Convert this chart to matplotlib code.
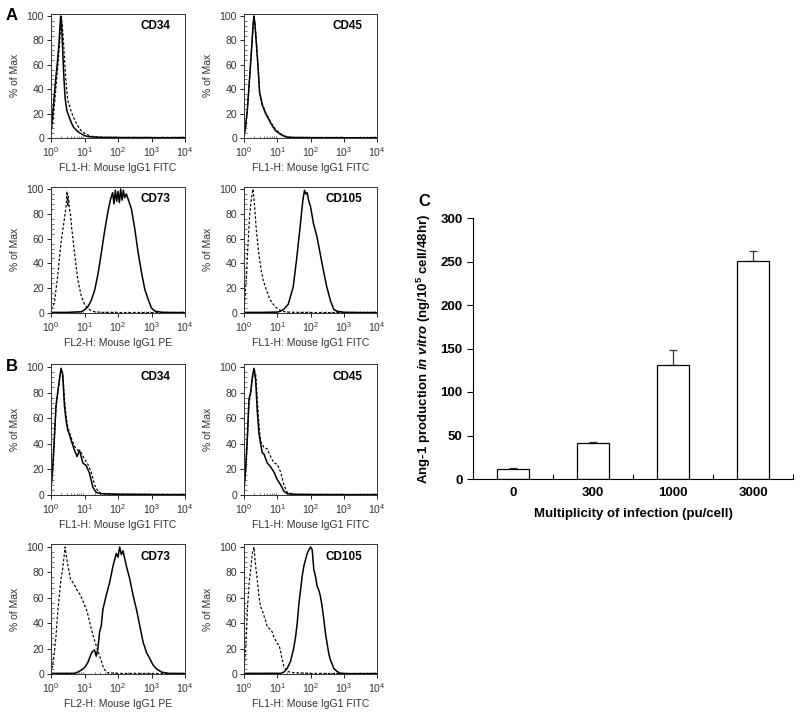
import numpy as np
import matplotlib
matplotlib.use("Agg")
import matplotlib.pyplot as plt
from matplotlib.ticker import LogLocator, MultipleLocator, NullFormatter

plt.rcParams['font.family'] = ['Liberation Sans', 'DejaVu Sans']
plt.rcParams['mathtext.fontset'] = 'custom'
plt.rcParams['mathtext.rm'] = 'Liberation Sans:bold'
plt.rcParams['mathtext.it'] = 'Liberation Sans:italic:bold'
plt.rcParams['mathtext.bf'] = 'Liberation Sans:bold'

# ---------------- flow cytometry histograms (x = log10 intensity, y = % of Max) ----------
A_CD34_solid_x = [0, .04, .09, .14, .19, .24, .27, .29, .31, .34, .38, .42, .47, .53, .6, .67, .77, .87, 1.0, 1.1, 1.25, 1.5, 2.0, 3.0, 4.0]
A_CD34_solid_y = [6, 16, 32, 48, 62, 78, 93, 100, 95, 78, 52, 33, 23, 18, 13, 9, 6, 4, 2, 1.2, .8, .5, .4, .3, .3]
A_CD34_dash_x = [0, .05, .1, .15, .2, .25, .28, .31, .34, .37, .41, .45, .5, .6, .7, .8, .9, 1.0, 1.1, 1.2, 1.4, 1.7, 2.0, 3.0, 4.0]
A_CD34_dash_y = [4, 12, 26, 42, 58, 75, 88, 98, 92, 80, 62, 45, 31, 22, 15, 10, 6, 4, 2.5, 1.5, .8, .5, .4, .3, .3]

A_CD45_solid_x = [0, .05, .1, .17, .24, .28, .3, .33, .37, .42, .47, .55, .65, .75, .85, .95, 1.1, 1.2, 1.3, 1.5, 2.0, 3.0, 4.0]
A_CD45_solid_y = [1, 10, 23, 50, 78, 95, 100, 93, 78, 59, 37, 27, 20, 15, 10, 6, 3, 1.5, .7, .4, .3, .2, .2]
A_CD45_dash_x = [0, .05, .1, .17, .24, .28, .3, .33, .37, .42, .47, .55, .65, .75, .85, .95, 1.1, 1.2, 1.3, 1.5, 2.0, 3.0, 4.0]
A_CD45_dash_y = [1, 9, 22, 49, 77, 94, 99, 94, 80, 60, 38, 28, 21, 16, 11, 7, 3.5, 1.8, .8, .4, .3, .2, .2]

A_CD73_solid_x = [0, .5, .9, 1.0, 1.1, 1.2, 1.3, 1.4, 1.5, 1.6, 1.7, 1.78, 1.84, 1.88, 1.92, 1.96, 2.0, 2.04, 2.08, 2.12, 2.16, 2.2, 2.25, 2.3, 2.4, 2.5, 2.6, 2.7, 2.8, 2.9, 3.0, 3.1, 3.3, 3.6, 4.0]
A_CD73_solid_y = [.5, .5, 1, 2.5, 5, 10, 18, 31, 48, 66, 82, 92, 97, 88, 99, 90, 98, 89, 100, 91, 99, 93, 96, 92, 84, 68, 49, 33, 19, 11, 4, 1.5, .6, .4, .3]
A_CD73_dash_x = [0, .05, .1, .2, .3, .4, .45, .48, .5, .52, .55, .58, .62, .7, .8, .9, 1.0, 1.1, 1.2, 1.3, 1.5, 2.0, 3.0, 4.0]
A_CD73_dash_y = [3, 5, 8, 30, 57, 76, 86, 98, 86, 94, 84, 80, 68, 49, 27, 14, 7, 3.5, 2, 1, .5, .4, .3, .3]

A_CD105_solid_x = [0, .6, 1.0, 1.1, 1.2, 1.33, 1.48, 1.58, 1.69, 1.77, 1.82, 1.86, 1.9, 1.95, 2.0, 2.09, 2.19, 2.29, 2.39, 2.49, 2.6, 2.7, 2.8, 3.0, 3.5, 4.0]
A_CD105_solid_y = [.5, .5, .7, 1.5, 3, 7, 21, 43, 70, 91, 99, 96, 97, 90, 86, 72, 62, 48, 34, 21, 10, 3, 1.4, .6, .4, .3]
A_CD105_dash_x = [0, .03, .07, .12, .17, .22, .27, .32, .37, .42, .47, .52, .58, .68, .78, .88, .98, 1.13, 1.3, 1.6, 2.0, 3.0, 4.0]
A_CD105_dash_y = [3, 12, 29, 55, 79, 92, 100, 86, 67, 54, 43, 34, 26, 18, 11, 7, 4, 1.5, .7, .5, .4, .3, .3]

B_CD34_solid_x = [0, .05, .1, .15, .2, .25, .3, .35, .4, .45, .5, .6, .7, .78, .85, .95, 1.05, 1.15, 1.25, 1.35, 1.5, 2.0, 3.0, 4.0]
B_CD34_solid_y = [6, 20, 45, 70, 80, 90, 99, 94, 70, 58, 51, 43, 35, 30, 35, 25, 23, 17, 6, 2, 1, .6, .4, .3]
B_CD34_dash_x = [0, .05, .1, .15, .2, .25, .3, .35, .4, .45, .5, .6, .7, .8, .9, 1.0, 1.1, 1.2, 1.3, 1.4, 1.5, 2.0, 3.0, 4.0]
B_CD34_dash_y = [5, 18, 42, 68, 79, 89, 98, 95, 76, 62, 53, 45, 38, 35, 33, 28, 24, 18, 8, 3, 1, .6, .4, .3]

B_CD45_solid_x = [0, .05, .1, .15, .2, .25, .3, .35, .4, .45, .5, .55, .6, .7, .8, .9, 1.0, 1.1, 1.2, 1.3, 1.5, 2.0, 3.0, 4.0]
B_CD45_solid_y = [5, 20, 45, 75, 80, 92, 99, 90, 65, 48, 40, 33, 32, 25, 22, 18, 12, 8, 3, 1, .5, .4, .3, .3]
B_CD45_dash_x = [0, .05, .1, .15, .2, .25, .3, .35, .4, .45, .5, .6, .7, .8, .9, 1.0, 1.1, 1.2, 1.3, 1.5, 2.0, 3.0, 4.0]
B_CD45_dash_y = [4, 18, 42, 72, 79, 90, 98, 95, 75, 55, 42, 37, 36, 30, 25, 24, 18, 8, 2, .5, .4, .3, .3]

B_CD73_solid_x = [0, .7, .8, .9, 1.0, 1.1, 1.2, 1.25, 1.3, 1.35, 1.4, 1.45, 1.5, 1.55, 1.65, 1.75, 1.85, 1.95, 2.0, 2.05, 2.1, 2.15, 2.25, 2.35, 2.45, 2.55, 2.65, 2.75, 2.85, 2.95, 3.05, 3.15, 3.3, 3.5, 4.0]
B_CD73_solid_y = [.5, .5, 1.5, 3, 5, 9, 16, 18, 19, 14, 20, 33, 38, 51, 62, 72, 85, 95, 92, 100, 94, 97, 85, 75, 62, 51, 38, 25, 17, 12, 7, 4, 1.5, .5, .3]
B_CD73_dash_x = [0, .05, .1, .15, .2, .3, .35, .42, .48, .58, .68, .78, .88, .98, 1.08, 1.18, 1.28, 1.38, 1.48, 1.58, 1.68, 2.0, 3.0, 4.0]
B_CD73_dash_y = [1, 7, 17, 30, 49, 75, 83, 100, 89, 75, 71, 66, 62, 56, 49, 38, 28, 20, 12, 4, 1, .5, .4, .3]

B_CD105_solid_x = [0, 1.0, 1.1, 1.2, 1.3, 1.4, 1.5, 1.55, 1.6, 1.65, 1.7, 1.75, 1.8, 1.9, 2.0, 2.05, 2.1, 2.15, 2.2, 2.25, 2.3, 2.35, 2.4, 2.45, 2.5, 2.55, 2.6, 2.7, 2.8, 2.9, 3.2, 4.0]
B_CD105_solid_y = [.5, .5, .5, 1.5, 4.5, 10, 21, 29, 40, 55, 66, 77, 85, 95, 100, 98, 82, 77, 69, 66, 61, 53, 43, 32, 24, 16, 11, 4.5, 2, .5, .3, .3]
B_CD105_dash_x = [0, .05, .1, .15, .2, .25, .3, .35, .4, .45, .5, .55, .6, .65, .7, .75, .8, .85, .9, 1.0, 1.05, 1.1, 1.15, 1.2, 1.3, 1.5, 2.0, 3.0, 4.0]
B_CD105_dash_y = [3, 19, 50, 70, 82, 95, 100, 85, 74, 61, 53, 50, 46, 42, 37, 36, 35, 33, 29, 24, 23, 18, 11, 6, 2, 1, .5, .3, .3]

# ---------------- bar chart ----------------
moi_labels = ['0', '300', '1000', '3000']
ang1_values = [12, 41, 131, 251]
ang1_errors = [1, 1.5, 17, 11]

W, H = 800, 724
fig = plt.figure(figsize=(W / 100, H / 100), dpi=100)


def add_ax(left, right, top, bottom):
    return fig.add_axes([left / W, 1 - bottom / H, (right - left) / W, (bottom - top) / H])


def flow(ax, sx, sy, dx, dy, name, xlabel):
    ax.plot(10 ** np.asarray(sx), sy, color='black', lw=1.1)
    ax.plot(10 ** np.asarray(dx), dy, color='black', lw=0.85, ls=(0, (2.2, 1.6)))
    ax.set_xscale('log')
    ax.set_xlim(1, 1e4)
    ax.set_ylim(0, 102)
    ax.xaxis.set_major_locator(LogLocator(base=10, numticks=10))
    ax.xaxis.set_minor_locator(LogLocator(base=10, subs=np.arange(2, 10), numticks=20))
    ax.xaxis.set_minor_formatter(NullFormatter())
    ax.set_yticks([0, 20, 40, 60, 80, 100])
    ax.yaxis.set_minor_locator(MultipleLocator(4))
    ax.tick_params(axis='both', which='major', labelsize=7.5, length=3, width=0.7,
                   direction='out', pad=2, colors='#222222', labelcolor='#333333')
    ax.tick_params(axis='both', which='minor', length=1.8, width=0.5, direction='in',
                   colors='#444444')
    for s in ax.spines.values():
        s.set_linewidth(0.7)
        s.set_color('#333333')
    ax.set_ylabel('% of Max', fontsize=7.5, color='#333333', labelpad=5)
    ax.set_xlabel(xlabel, fontsize=7.5, color='#333333', labelpad=3)
    ax.text(0.89, 0.9, name, transform=ax.transAxes, ha='right', va='center',
            fontsize=8.5, fontweight='bold')


cols = [(51, 185), (244, 377)]
rows = [(16, 138), (189, 313), (367, 495), (547, 674)]


def row_ax(r, c):
    y100, y0 = rows[r]
    top = y100 - 0.02 * (y0 - y100)
    return add_ax(cols[c][0], cols[c][1], top, y0)


FITC = 'FL1-H: Mouse IgG1 FITC'
PE = 'FL2-H: Mouse IgG1 PE'

flow(row_ax(0, 0), A_CD34_solid_x, A_CD34_solid_y, A_CD34_dash_x, A_CD34_dash_y, 'CD34', FITC)
flow(row_ax(0, 1), A_CD45_solid_x, A_CD45_solid_y, A_CD45_dash_x, A_CD45_dash_y, 'CD45', FITC)
flow(row_ax(1, 0), A_CD73_solid_x, A_CD73_solid_y, A_CD73_dash_x, A_CD73_dash_y, 'CD73', PE)
flow(row_ax(1, 1), A_CD105_solid_x, A_CD105_solid_y, A_CD105_dash_x, A_CD105_dash_y, 'CD105', FITC)
flow(row_ax(2, 0), B_CD34_solid_x, B_CD34_solid_y, B_CD34_dash_x, B_CD34_dash_y, 'CD34', FITC)
flow(row_ax(2, 1), B_CD45_solid_x, B_CD45_solid_y, B_CD45_dash_x, B_CD45_dash_y, 'CD45', FITC)
flow(row_ax(3, 0), B_CD73_solid_x, B_CD73_solid_y, B_CD73_dash_x, B_CD73_dash_y, 'CD73', PE)
flow(row_ax(3, 1), B_CD105_solid_x, B_CD105_solid_y, B_CD105_dash_x, B_CD105_dash_y, 'CD105', FITC)

fig.text(12 / W, 1 - 16 / H, 'A', fontsize=12, fontweight='bold', ha='center', va='center')
fig.text(12 / W, 1 - 367 / H, 'B', fontsize=12, fontweight='bold', ha='center', va='center')
fig.text(424 / W, 1 - 202 / H, 'C', fontsize=12, fontweight='bold', ha='center', va='center')

# bar chart
axc = add_ax(473, 793, 218, 479)
xpos = np.arange(len(moi_labels))
axc.bar(xpos, ang1_values, width=0.4, color='white', edgecolor='black', linewidth=0.9, zorder=2)
axc.errorbar(xpos, ang1_values, yerr=[np.zeros(len(ang1_errors)), ang1_errors], fmt='none',
             ecolor='#333333', elinewidth=0.9, capsize=2.6, capthick=0.9, zorder=1)
axc.set_xlim(-0.5, len(moi_labels) - 0.5)
axc.set_ylim(0, 300)
axc.set_xticks(xpos)
axc.set_xticklabels(moi_labels, fontsize=9.5, fontweight='bold')
axc.set_xticks(xpos + 0.5, minor=True)
axc.tick_params(axis='x', which='major', length=0, pad=6)
axc.tick_params(axis='x', which='minor', length=3.5, direction='in', width=0.8)
axc.set_yticks(np.arange(0, 301, 50))
axc.tick_params(axis='y', which='major', length=4, direction='out', width=0.8, labelsize=9.5)
for lab in axc.get_yticklabels():
    lab.set_fontweight('bold')
axc.spines['top'].set_visible(False)
axc.spines['right'].set_visible(False)
axc.spines['left'].set_linewidth(0.8)
axc.spines['bottom'].set_linewidth(0.8)
axc.set_ylabel(r'Ang-1 production $\mathit{in\ vitro}$ (ng/10$^{5}$ cell/48hr)',
               fontsize=9.5, fontweight='bold', labelpad=5)
axc.set_xlabel('Multiplicity of infection (pu/cell)', fontsize=9.5, fontweight='bold', labelpad=6)

fig.savefig('out.png', dpi=100)
